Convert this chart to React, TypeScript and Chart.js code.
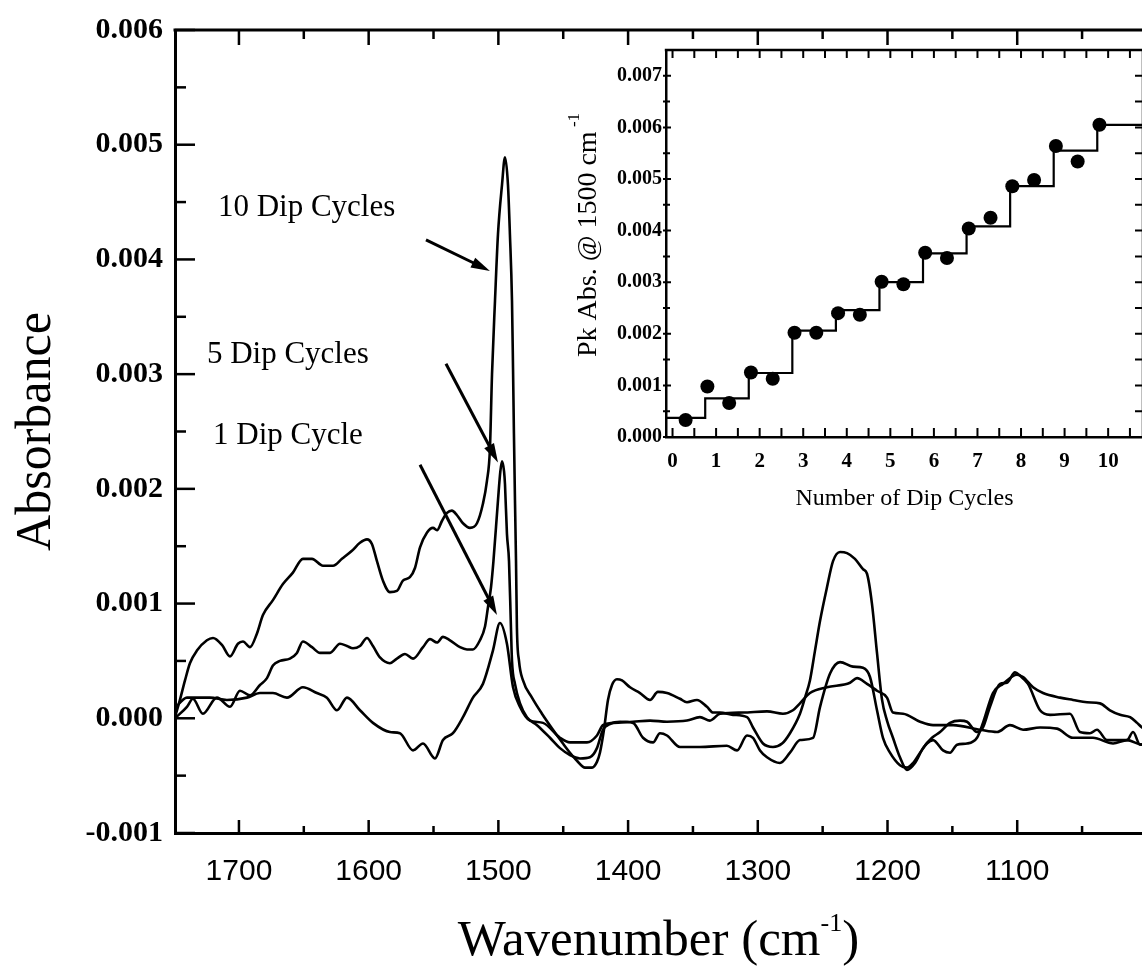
import React, { useEffect, useRef } from 'react';
import { Chart, registerables } from 'chart.js';

Chart.register(...registerables);
Chart.defaults.color = '#000';

const SERIF = '"Liberation Serif", "Times New Roman", Times, serif';
const SANS = '"Liberation Sans", Arial, Helvetica, sans-serif';

// ---------- main spectrum axes ----------
const wavenumberRange = [1003.8, 1749.3];
const absorbanceRange = [-0.001, 0.006];
const wavenumberTicks = [1100, 1200, 1300, 1400, 1500, 1600, 1700];
const wavenumberMinorTicks = [1050, 1150, 1250, 1350, 1450, 1550, 1650];
const absorbanceTicks = [-0.001, 0, 0.001, 0.002, 0.003, 0.004, 0.005, 0.006];
const absorbanceMinorTicks = [-0.0005, 0.0005, 0.0015, 0.0025, 0.0035, 0.0045, 0.0055];

// ---------- spectra: [wavenumber, absorbance] ----------
const tenDipCycles: [number, number][] = [
  [1749.3, 0.00001], [1745.5, 0.00016], [1741.6, 0.00033], [1737.8, 0.00048], [1732.4, 0.00059],
  [1724.7, 0.00068], [1720.0, 0.00070], [1713.1, 0.00064], [1706.9, 0.00054], [1700.8, 0.00065],
  [1696.9, 0.00067], [1691.5, 0.00062], [1686.1, 0.00074], [1681.5, 0.00090], [1673.8, 0.00103],
  [1666.1, 0.00117], [1658.4, 0.00127], [1650.7, 0.00139], [1643.7, 0.00139], [1635.2, 0.00133],
  [1627.5, 0.00133], [1620.6, 0.00139], [1612.9, 0.00146], [1606.7, 0.00153], [1601.3, 0.00156],
  [1597.5, 0.00152], [1593.6, 0.00137], [1589.0, 0.00120], [1583.6, 0.00110], [1578.2, 0.00111],
  [1573.6, 0.00120], [1568.2, 0.00123], [1564.3, 0.00131], [1560.4, 0.00149], [1555.0, 0.00162],
  [1550.4, 0.00166], [1547.3, 0.00164], [1543.5, 0.00172], [1539.6, 0.00179], [1535.8, 0.00181],
  [1531.9, 0.00177], [1527.3, 0.00170], [1521.9, 0.00166], [1516.5, 0.00170], [1511.9, 0.00187],
  [1508.8, 0.00207], [1506.5, 0.00235], [1504.9, 0.00300], [1502.6, 0.00364], [1500.3, 0.00422],
  [1497.2, 0.00465], [1494.9, 0.00489], [1492.6, 0.00465], [1491.1, 0.00422], [1489.5, 0.00364],
  [1488.7, 0.00305], [1488.0, 0.00248], [1487.2, 0.00190], [1486.4, 0.00137], [1485.7, 0.00079],
  [1484.1, 0.00050], [1481.0, 0.00033], [1474.1, 0.00018], [1466.4, 0.00004], [1457.9, -0.00010],
  [1450.2, -0.00022], [1444.8, -0.00030], [1439.4, -0.00037], [1433.2, -0.00043], [1427.8, -0.00043],
  [1424.0, -0.00038], [1421.7, -0.00030], [1418.6, -0.00010], [1415.5, 0.00016], [1412.4, 0.00029],
  [1408.6, 0.00034], [1404.7, 0.00033], [1398.5, 0.00027], [1390.8, 0.00022], [1383.1, 0.00016],
  [1377.0, 0.00023], [1370.0, 0.00022], [1360.0, 0.00017], [1354.6, 0.00014], [1346.9, 0.00016],
  [1339.2, 0.00010], [1334.5, 0.00005], [1329.1, 0.00005], [1319.1, 0.00003], [1308.3, 0.00001],
  [1303.7, -0.00008], [1296.0, -0.00022], [1288.3, -0.00025], [1281.3, -0.00022], [1275.2, -0.00013],
  [1267.5, 0.00004], [1263.6, 0.00018], [1259.8, 0.00033], [1255.9, 0.00059], [1252.0, 0.00085],
  [1246.7, 0.00114], [1242.0, 0.00137], [1236.6, 0.00145], [1231.2, 0.00144], [1225.1, 0.00139],
  [1218.9, 0.00130], [1215.8, 0.00126], [1212.0, 0.00100], [1208.1, 0.00057], [1204.2, 0.00016],
  [1200.4, -0.00002], [1195.8, -0.00017], [1190.4, -0.00034], [1185.0, -0.00045], [1178.8, -0.00039],
  [1172.6, -0.00026], [1165.7, -0.00017], [1159.5, -0.00012], [1151.8, -0.00004], [1144.1, -0.00002],
  [1138.7, -0.00003], [1131.0, -0.00012], [1126.4, -0.00008], [1121.0, 0.00010], [1113.3, 0.00030],
  [1107.9, 0.00031], [1101.7, 0.00040], [1097.8, 0.00037], [1091.7, 0.00030], [1082.4, 0.00007],
  [1074.7, 0.00003], [1059.3, 0.00004], [1051.6, -0.00012], [1043.9, -0.00013], [1038.5, -0.00010],
  [1030.8, -0.00019], [1015.4, -0.00019], [1010.7, -0.00012], [1005.3, -0.00023], [1000.0, -0.00022],
];

const fiveDipCycles: [number, number][] = [
  [1749.3, 0.00000], [1740.1, 0.00010], [1735.5, 0.00017], [1727.8, 0.00004], [1717.0, 0.00018],
  [1706.9, 0.00010], [1699.2, 0.00024], [1691.5, 0.00020], [1683.8, 0.00029], [1678.4, 0.00035],
  [1673.8, 0.00046], [1668.4, 0.00050], [1660.7, 0.00052], [1655.3, 0.00057], [1650.7, 0.00067],
  [1643.7, 0.00062], [1637.5, 0.00057], [1629.8, 0.00057], [1622.1, 0.00065], [1616.7, 0.00063],
  [1612.1, 0.00061], [1606.7, 0.00063], [1601.3, 0.00070], [1596.7, 0.00063], [1591.3, 0.00053],
  [1583.6, 0.00048], [1578.2, 0.00052], [1572.0, 0.00056], [1565.8, 0.00052], [1558.1, 0.00062],
  [1552.7, 0.00069], [1547.3, 0.00066], [1542.7, 0.00071], [1537.3, 0.00068], [1529.6, 0.00062],
  [1524.2, 0.00060], [1519.6, 0.00060], [1514.2, 0.00068], [1510.3, 0.00080], [1508.0, 0.00097],
  [1505.7, 0.00114], [1503.8, 0.00137], [1500.3, 0.00190], [1498.5, 0.00215], [1497.2, 0.00224],
  [1495.6, 0.00215], [1494.9, 0.00204], [1493.4, 0.00161], [1491.8, 0.00137], [1490.3, 0.00079],
  [1489.5, 0.00050], [1487.2, 0.00030], [1483.3, 0.00013], [1478.0, 0.00001], [1470.2, -0.00006],
  [1460.2, -0.00017], [1452.5, -0.00026], [1444.8, -0.00032], [1437.1, -0.00035], [1429.4, -0.00034],
  [1424.0, -0.00026], [1419.4, -0.00010], [1414.0, -0.00005], [1406.2, -0.00003], [1396.2, -0.00004],
  [1388.5, -0.00017], [1380.8, -0.00021], [1375.4, -0.00013], [1370.0, -0.00015], [1360.0, -0.00025],
  [1344.6, -0.00025], [1323.8, -0.00024], [1316.0, -0.00028], [1308.3, -0.00015], [1303.7, -0.00017],
  [1298.3, -0.00028], [1292.9, -0.00034], [1282.9, -0.00039], [1275.2, -0.00030], [1267.5, -0.00019],
  [1257.4, -0.00017], [1252.0, 0.00010], [1244.3, 0.00039], [1236.6, 0.00049], [1226.6, 0.00045],
  [1218.9, 0.00044], [1213.5, 0.00036], [1208.1, 0.00007], [1203.5, -0.00017], [1198.1, -0.00030],
  [1190.4, -0.00041], [1185.0, -0.00043], [1180.3, -0.00039], [1174.9, -0.00030], [1169.6, -0.00022],
  [1164.9, -0.00019], [1157.2, -0.00028], [1151.8, -0.00030], [1146.4, -0.00023], [1138.7, -0.00022],
  [1131.0, -0.00017], [1126.4, -0.00004], [1118.7, 0.00022], [1111.0, 0.00030], [1100.2, 0.00038],
  [1095.5, 0.00036], [1087.8, 0.00027], [1080.1, 0.00022], [1067.0, 0.00018], [1057.0, 0.00016],
  [1046.2, 0.00014], [1036.2, 0.00013], [1028.5, 0.00007], [1020.7, 0.00003], [1013.0, 0.00001],
  [1007.6, -0.00004], [1003.8, -0.00008], [1000.0, -0.00010],
];

const oneDipCycle: [number, number][] = [
  [1749.3, 0.00009], [1740.1, 0.00018], [1722.4, 0.00018], [1709.3, 0.00016], [1693.8, 0.00018],
  [1683.8, 0.00022], [1673.8, 0.00022], [1663.0, 0.00018], [1650.7, 0.00027], [1639.9, 0.00022],
  [1632.2, 0.00018], [1624.4, 0.00007], [1616.7, 0.00018], [1606.7, 0.00007], [1596.7, -0.00004],
  [1583.6, -0.00012], [1575.9, -0.00013], [1565.8, -0.00028], [1558.1, -0.00022], [1548.9, -0.00035],
  [1542.7, -0.00019], [1535.0, -0.00013], [1527.3, 0.00001], [1519.6, 0.00018], [1511.9, 0.00030],
  [1504.2, 0.00059], [1498.8, 0.00083], [1493.4, 0.00065], [1488.7, 0.00027], [1483.3, 0.00010],
  [1475.6, -0.00002], [1465.6, -0.00004], [1452.5, -0.00017], [1444.8, -0.00021], [1431.7, -0.00021],
  [1424.0, -0.00015], [1419.4, -0.00006], [1411.6, -0.00004], [1396.2, -0.00003], [1383.1, -0.00002],
  [1370.0, -0.00003], [1354.6, -0.00002], [1344.6, 0.00001], [1336.9, -0.00002], [1329.1, 0.00004],
  [1311.4, 0.00005], [1292.9, 0.00006], [1280.6, 0.00004], [1272.9, 0.00007], [1267.5, 0.00013],
  [1259.8, 0.00022], [1246.7, 0.00027], [1228.9, 0.00031], [1223.5, 0.00035], [1215.8, 0.00030],
  [1208.1, 0.00024], [1200.4, 0.00018], [1195.8, 0.00005], [1188.0, 0.00004], [1174.9, -0.00003],
  [1164.9, -0.00006], [1149.5, -0.00006], [1128.7, -0.00010], [1115.6, -0.00012], [1105.6, -0.00006],
  [1095.5, -0.00010], [1082.4, -0.00008], [1069.3, -0.00009], [1057.0, -0.00017], [1041.6, -0.00017],
  [1026.1, -0.00022], [1015.4, -0.00019], [1003.8, -0.00023], [1000.0, -0.00022],
];

// ---------- annotations (data coordinates) ----------
const annotationLabels = ['10 Dip Cycles', '5 Dip Cycles', '1 Dip Cycle'];
const labelAnchors: [number, number][] = [[1716.2, 0.00438], [1724.7, 0.0031], [1720.0, 0.00239]];
const arrowTails: [number, number][] = [[1555.8, 0.00417], [1540.4, 0.00309], [1560.4, 0.00221]];
const arrowHeads: [number, number][] = [[1506.5, 0.0039], [1500.3, 0.00223], [1501.1, 0.0009]];

// ---------- inset ----------
const cycleRange = [-0.15, 10.8];
const peakRange = [0, 0.0075];
const cycleTicks = [0, 1, 2, 3, 4, 5, 6, 7, 8, 9, 10];
const cycleMinorTicks = [0.5, 1.5, 2.5, 3.5, 4.5, 5.5, 6.5, 7.5, 8.5, 9.5, 10.5];
const peakTicks = [0, 0.001, 0.002, 0.003, 0.004, 0.005, 0.006, 0.007];
const peakMinorTicks = [0.0005, 0.0015, 0.0025, 0.0035, 0.0045, 0.0055, 0.0065];
const cycleX = [0.3, 0.8, 1.3, 1.8, 2.3, 2.8, 3.3, 3.8, 4.3, 4.8, 5.3, 5.8, 6.3, 6.8, 7.3, 7.8, 8.3, 8.8, 9.3, 9.8];
const peakAbs = [
  0.00033, 0.00098, 0.00066, 0.00125, 0.00113, 0.00202, 0.00202, 0.0024, 0.00237, 0.00301,
  0.00296, 0.00357, 0.00347, 0.00404, 0.00425, 0.00486, 0.00498, 0.00564, 0.00534, 0.00605,
];
const stepX = [-0.15, 0.75, 1.75, 2.75, 3.75, 4.75, 5.75, 6.75, 7.75, 8.75, 9.75, 10.8];
const stepY = [0.00037, 0.00075, 0.00124, 0.00206, 0.00246, 0.003, 0.00356, 0.00408, 0.00486, 0.00555, 0.00605, 0.00605];

function drawSupText(ctx: any, parts: { text: string; size: number; raise: number }[], cx: number, baseY: number) {
  let total = 0;
  const widths = parts.map((p) => {
    ctx.font = `${p.size}px ${SERIF}`;
    const w = ctx.measureText(p.text).width;
    total += w;
    return w;
  });
  let x = cx - total / 2;
  ctx.textAlign = 'left';
  ctx.textBaseline = 'alphabetic';
  parts.forEach((p, i) => {
    ctx.font = `${p.size}px ${SERIF}`;
    ctx.fillText(p.text, x, baseY - p.raise);
    x += widths[i];
  });
}

function drawArrow(ctx: any, x1: number, y1: number, x2: number, y2: number) {
  const ang = Math.atan2(y2 - y1, x2 - x1);
  const c = Math.cos(ang), s = Math.sin(ang);
  const L = 19, W = 5.5;
  ctx.lineWidth = 3;
  ctx.beginPath();
  ctx.moveTo(x1, y1);
  ctx.lineTo(x2 - L * 0.8 * c, y2 - L * 0.8 * s);
  ctx.stroke();
  ctx.beginPath();
  ctx.moveTo(x2, y2);
  ctx.lineTo(x2 - L * c + W * s, y2 - L * s - W * c);
  ctx.lineTo(x2 - L * c - W * s, y2 - L * s + W * c);
  ctx.closePath();
  ctx.fill();
}

const mainDecor = {
  id: 'mainDecor',
  afterDraw(chart: any) {
    const { ctx } = chart;
    const { left, right, top, bottom } = chart.chartArea;
    const xs = chart.scales.x;
    const ys = chart.scales.y;
    ctx.save();
    ctx.strokeStyle = '#000';
    ctx.fillStyle = '#000';
    ctx.lineWidth = 3;
    ctx.beginPath();
    ctx.moveTo(left - 1.5, top);
    ctx.lineTo(right, top);
    ctx.stroke();

    ctx.lineWidth = 2.5;
    const vt = (v: number, lb: number, lt: number) => {
      const px = xs.getPixelForValue(v);
      ctx.beginPath();
      ctx.moveTo(px, bottom);
      ctx.lineTo(px, bottom - lb);
      ctx.moveTo(px, top);
      ctx.lineTo(px, top + lt);
      ctx.stroke();
    };
    wavenumberTicks.forEach((v) => vt(v, 13, 15));
    wavenumberMinorTicks.forEach((v) => vt(v, 7, 9));
    const ht = (v: number, len: number) => {
      const py = ys.getPixelForValue(v);
      ctx.beginPath();
      ctx.moveTo(left, py);
      ctx.lineTo(left + len, py);
      ctx.stroke();
    };
    absorbanceTicks.forEach((v) => ht(v, 20));
    absorbanceMinorTicks.forEach((v) => ht(v, 11));

    // annotations
    ctx.font = `31px ${SERIF}`;
    ctx.textAlign = 'left';
    ctx.textBaseline = 'alphabetic';
    annotationLabels.forEach((t, i) => {
      ctx.fillText(t, xs.getPixelForValue(labelAnchors[i][0]), ys.getPixelForValue(labelAnchors[i][1]));
    });
    arrowTails.forEach((tail, i) => {
      drawArrow(
        ctx,
        xs.getPixelForValue(tail[0]), ys.getPixelForValue(tail[1]),
        xs.getPixelForValue(arrowHeads[i][0]), ys.getPixelForValue(arrowHeads[i][1])
      );
    });

    // x title with superscript
    drawSupText(
      ctx,
      [
        { text: 'Wavenumber (cm', size: 51, raise: 0 },
        { text: '-1', size: 26, raise: 24 },
        { text: ')', size: 51, raise: 0 },
      ],
      (left + right) / 2,
      chart.height - 14
    );
    ctx.restore();
  },
};

const insetDecor = {
  id: 'insetDecor',
  afterDraw(chart: any) {
    const { ctx } = chart;
    const { left, right, top, bottom } = chart.chartArea;
    const xs = chart.scales.x;
    const ys = chart.scales.y;
    ctx.save();
    ctx.strokeStyle = '#000';
    ctx.fillStyle = '#000';
    ctx.lineWidth = 2.5;
    ctx.beginPath();
    ctx.moveTo(left - 1.2, top);
    ctx.lineTo(right, top);
    ctx.lineTo(right, bottom);
    ctx.stroke();

    ctx.lineWidth = 2;
    const vt = (v: number, lb: number, lt: number) => {
      const px = xs.getPixelForValue(v);
      ctx.beginPath();
      ctx.moveTo(px, bottom);
      ctx.lineTo(px, bottom - lb);
      ctx.moveTo(px, top);
      ctx.lineTo(px, top + lt);
      ctx.stroke();
    };
    cycleTicks.forEach((v) => vt(v, 9, 8));
    cycleMinorTicks.forEach((v) => vt(v, 9, 8));
    const ht = (v: number, lenL: number, lenR: number) => {
      const py = ys.getPixelForValue(v);
      ctx.beginPath();
      ctx.moveTo(left - 3, py);
      ctx.lineTo(left + lenL, py);
      ctx.moveTo(right, py);
      ctx.lineTo(right - lenR, py);
      ctx.stroke();
    };
    peakTicks.forEach((v) => ht(v, 5, 8));
    peakMinorTicks.forEach((v) => ht(v, 4, 8));

    // rotated y title with superscript
    ctx.translate(left - 70, (top + bottom) / 2 - 8.5);
    ctx.rotate(-Math.PI / 2);
    drawSupText(
      ctx,
      [
        { text: 'Pk Abs. @ 1500 cm', size: 28, raise: 0 },
        { text: ' -1', size: 17, raise: 17 },
      ],
      0,
      0
    );
    ctx.restore();
  },
};

export default function App() {
  const mainRef = useRef<HTMLCanvasElement>(null);
  const insetRef = useRef<HTMLCanvasElement>(null);

  useEffect(() => {
    const toPts = (arr: [number, number][]) => arr.map(([x, y]) => ({ x, y }));
    const lineDs = (label: string, arr: [number, number][]) => ({
      label,
      data: toPts(arr),
      borderColor: '#000',
      borderWidth: 2.6,
      pointRadius: 0,
      cubicInterpolationMode: 'monotone',
      fill: false,
    });

    const main = new Chart(mainRef.current as HTMLCanvasElement, {
      type: 'line',
      data: {
        datasets: [
          lineDs('10 Dip Cycles', tenDipCycles),
          lineDs('5 Dip Cycles', fiveDipCycles),
          lineDs('1 Dip Cycle', oneDipCycle),
        ],
      },
      options: {
        animation: false,
        responsive: false,
        maintainAspectRatio: false,
        layout: { padding: { top: 29, left: 0, right: 0, bottom: 0 } },
        plugins: { legend: { display: false }, tooltip: { enabled: false } },
        scales: {
          x: {
            type: 'linear',
            reverse: true,
            min: wavenumberRange[0],
            max: wavenumberRange[1],
            grid: { display: false, drawTicks: false },
            border: { display: true, color: '#000', width: 3 },
            afterBuildTicks: (scale: any) => {
              scale.ticks = wavenumberTicks.map((v) => ({ value: v }));
            },
            afterFit: (scale: any) => {
              scale.height = 136;
            },
            ticks: {
              autoSkip: false,
              maxRotation: 0,
              padding: 21,
              color: '#000',
              font: { family: SANS, size: 30 },
              callback: (v: any) => String(v),
            },
          },
          y: {
            type: 'linear',
            min: absorbanceRange[0],
            max: absorbanceRange[1],
            grid: { display: false, drawTicks: false },
            border: { display: true, color: '#000', width: 3 },
            afterBuildTicks: (scale: any) => {
              scale.ticks = absorbanceTicks.map((v) => ({ value: v }));
            },
            afterFit: (scale: any) => {
              scale.width = 175;
            },
            title: {
              display: true,
              text: 'Absorbance',
              color: '#000',
              font: { family: SERIF, size: 50 },
              padding: { top: 7, bottom: 0 },
            },
            ticks: {
              autoSkip: false,
              padding: 12,
              color: '#000',
              font: { family: SERIF, size: 30, weight: 'bold' },
              callback: (v: any) => Number(v).toFixed(3),
            },
          },
        },
      },
      plugins: [mainDecor],
    } as any);

    const inset = new Chart(insetRef.current as HTMLCanvasElement, {
      type: 'scatter',
      data: {
        datasets: [
          {
            label: 'Step fit',
            type: 'line',
            data: stepX.map((x, i) => ({ x, y: stepY[i] })),
            stepped: 'before',
            borderColor: '#000',
            borderWidth: 2.2,
            pointRadius: 0,
            fill: false,
          },
          {
            label: 'Peak absorbance',
            data: cycleX.map((x, i) => ({ x, y: peakAbs[i] })),
            showLine: false,
            pointRadius: 7,
            pointBorderWidth: 0,
            backgroundColor: '#000',
            borderColor: '#000',
          },
        ],
      },
      options: {
        animation: false,
        responsive: false,
        maintainAspectRatio: false,
        layout: { padding: { top: 50, left: 0, right: 5, bottom: 0 } },
        plugins: { legend: { display: false }, tooltip: { enabled: false } },
        scales: {
          x: {
            type: 'linear',
            min: cycleRange[0],
            max: cycleRange[1],
            grid: { display: false, drawTicks: false },
            border: { display: true, color: '#000', width: 2.5 },
            afterBuildTicks: (scale: any) => {
              scale.ticks = cycleTicks.map((v) => ({ value: v }));
            },
            afterFit: (scale: any) => {
              scale.height = 93;
            },
            title: {
              display: true,
              text: 'Number of Dip Cycles',
              color: '#000',
              font: { family: SERIF, size: 24 },
              padding: { top: 0, bottom: 17 },
            },
            ticks: {
              autoSkip: false,
              maxRotation: 0,
              padding: 12,
              color: '#000',
              font: { family: SERIF, size: 21, weight: 'bold' },
              callback: (v: any) => String(v),
            },
          },
          y: {
            type: 'linear',
            min: peakRange[0],
            max: peakRange[1],
            grid: { display: false, drawTicks: false },
            border: { display: true, color: '#000', width: 2.5 },
            afterBuildTicks: (scale: any) => {
              scale.ticks = peakTicks.map((v) => ({ value: v }));
            },
            afterFit: (scale: any) => {
              scale.width = 126;
            },
            ticks: {
              autoSkip: false,
              padding: 4,
              color: '#000',
              font: { family: SERIF, size: 20, weight: 'bold' },
              callback: (v: any) => Number(v).toFixed(3),
            },
          },
        },
      },
      plugins: [insetDecor],
    } as any);

    return () => {
      main.destroy();
      inset.destroy();
    };
  }, []);

  return (
    <div
      style={{
        position: 'absolute',
        left: 0,
        top: 0,
        width: 1142,
        height: 969,
        overflow: 'hidden',
        background: '#fff',
      }}
    >
      <canvas
        ref={mainRef}
        width={1142}
        height={969}
        style={{ position: 'absolute', left: 0, top: 0, width: 1142, height: 969 }}
      />
      <canvas
        ref={insetRef}
        width={610}
        height={530}
        style={{ position: 'absolute', left: 540, top: 0, width: 610, height: 530 }}
      />
    </div>
  );
}
